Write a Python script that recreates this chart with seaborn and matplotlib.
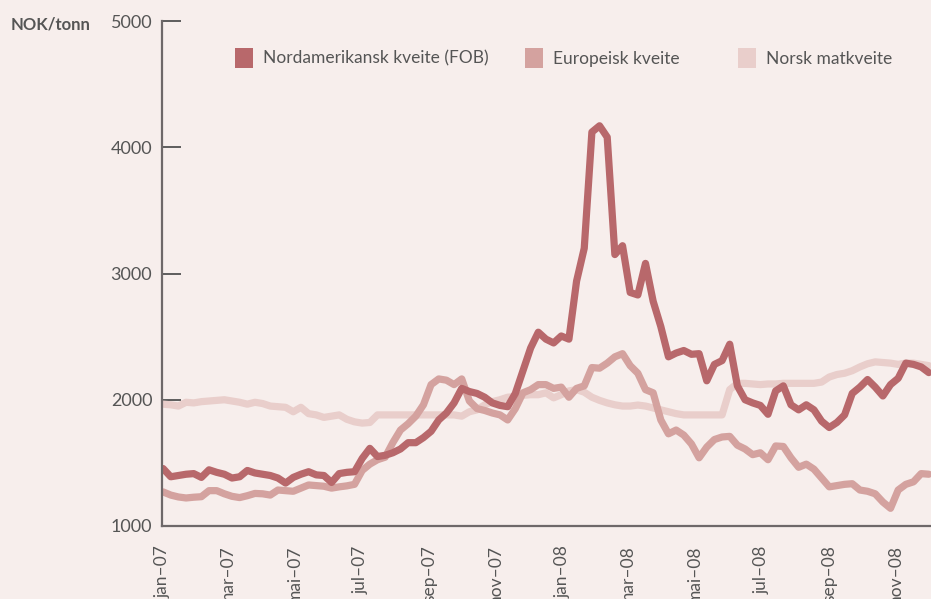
import numpy as np
import pandas as pd

# Plotting modules and settings.
import matplotlib
matplotlib.use('Agg')
import matplotlib.pyplot as plt
from matplotlib.patches import Patch
import seaborn as sns

bg = '#f7eeec'
sns.set_theme(style='white', rc={'axes.facecolor': bg, 'figure.facecolor': bg})
plt.rcParams['font.family'] = ['Lato', 'DejaVu Sans']

# weekly prices, NOK/tonn, from first week of jan-07
start = '2007-01-01'
n_weeks = 101

nordamerikansk = [1455, 1390, 1400, 1410, 1415, 1385, 1445, 1425, 1410, 1380,
                  1390, 1440, 1420, 1410, 1400, 1380, 1340, 1385, 1410, 1430,
                  1405, 1400, 1345, 1415, 1425, 1430, 1535, 1615, 1550, 1560,
                  1580, 1610, 1660, 1660, 1700, 1750, 1840, 1895, 1975, 2090,
                  2065, 2050, 2020, 1975, 1955, 1945, 2050, 2230, 2410, 2535,
                  2480, 2450, 2505, 2480, 2940, 3200, 4120, 4170, 4080, 3150,
                  3220, 2850, 2830, 3080, 2780, 2580, 2340, 2370, 2390, 2360,
                  2365, 2150, 2280, 2310, 2440, 2110, 2000, 1975, 1955, 1885,
                  2070, 2110, 1960, 1920, 1960, 1920, 1830, 1780, 1820, 1880,
                  2050, 2100, 2160, 2100, 2030, 2120, 2170, 2290, 2280, 2260,
                  2215]

europeisk = [1270, 1245, 1230, 1222, 1228, 1232, 1280, 1280, 1255, 1235,
             1225, 1240, 1258, 1255, 1245, 1285, 1280, 1275, 1300, 1325,
             1320, 1315, 1300, 1310, 1318, 1330, 1440, 1490, 1525, 1545,
             1660, 1760, 1810, 1870, 1960, 2120, 2165, 2155, 2120, 2165,
             1990, 1930, 1915, 1895, 1880, 1840, 1930, 2055, 2080, 2120,
             2120, 2090, 2100, 2020, 2090, 2110, 2255, 2250, 2290, 2340,
             2365, 2270, 2210, 2080, 2055, 1840, 1730, 1760, 1720, 1650,
             1540, 1625, 1685, 1705, 1710, 1640, 1610, 1565, 1580, 1525,
             1634, 1630, 1540, 1465, 1490, 1450, 1380, 1310, 1320, 1330,
             1335, 1285, 1275, 1255, 1190, 1140, 1285, 1330, 1350, 1415,
             1410]

norsk = [1965, 1960, 1950, 1980, 1975, 1985, 1990, 1995, 2000, 1990,
         1980, 1965, 1980, 1970, 1950, 1945, 1940, 1905, 1940, 1890,
         1880, 1860, 1870, 1880, 1845, 1825, 1815, 1820, 1880, 1880,
         1880, 1880, 1880, 1880, 1880, 1880, 1880, 1880, 1880, 1870,
         1905, 1920, 1960, 1985, 2000, 2020, 2025, 2035, 2040, 2040,
         2055, 2015, 2040, 2070, 2080, 2060, 2020, 1995, 1975, 1960,
         1950, 1950, 1958, 1950, 1935, 1920, 1905, 1890, 1880, 1880,
         1880, 1880, 1880, 1880, 2080, 2130, 2130, 2125, 2120, 2125,
         2125, 2130, 2130, 2130, 2130, 2130, 2140, 2180, 2200, 2210,
         2230, 2260, 2285, 2300, 2295, 2290, 2280, 2290, 2290, 2280,
         2270]

series_names = ['Nordamerikansk kveite (FOB)', 'Europeisk kveite', 'Norsk matkveite']
series_colors = ['#b8686b', '#d4a29f', '#e9cecb']

tick_months = pd.date_range('2007-01-01', '2008-11-01', freq='2MS')
tick_labels = ['jan–07', 'mar–07', 'mai–07', 'jul–07', 'sep–07', 'nov–07',
               'jan–08', 'mar–08', 'mai–08', 'jul–08', 'sep–08', 'nov–08']

dates = pd.date_range(start, periods=n_weeks, freq='7D')
df = pd.DataFrame({
    'dato': np.tile(dates, 3),
    'pris': nordamerikansk + europeisk + norsk,
    'serie': np.repeat(series_names, n_weeks),
})

fig = plt.figure(figsize=(9.31, 5.99), dpi=100)
ax = fig.add_axes([162 / 931, 73 / 599, 769 / 931, 505 / 599])

palette = dict(zip(series_names, series_colors))
# lightest first so the dark line ends on top
_ = sns.lineplot(data=df, x='dato', y='pris', hue='serie',
                 hue_order=series_names[::-1], palette=palette,
                 linewidth=5.2, legend=False, ax=ax)

ax.set_xlim(pd.Timestamp('2006-12-31'), pd.Timestamp('2008-12-03'))
ax.set_ylim(1000, 5000)
ax.set_yticks([1000, 2000, 3000, 4000, 5000])
ax.set_xticks(tick_months)
ax.set_xticklabels(tick_labels, rotation=90, va='top', ha='center')
ax.set_xlabel('')
ax.set_ylabel('')

for s in ['top', 'right']:
    ax.spines[s].set_visible(False)
for s in ['left', 'bottom']:
    ax.spines[s].set_color('#6e6869')
    ax.spines[s].set_linewidth(1.6)

ax.tick_params(axis='y', direction='in', length=13.5, width=1.2, color='#444444',
               pad=7, labelsize=13, labelcolor='#555555', left=True)
ax.tick_params(axis='x', length=0, pad=14, labelsize=12.5, labelcolor='#555555')

fig.text(11 / 931, 1 - 24 / 599, 'NOK/tonn', fontsize=12, fontweight='bold',
         color='#555555', va='center', ha='left')

# one legend per entry so each sits where the reference has it
legend_x = [235, 525, 738]
for name, color, lx in zip(series_names, series_colors, legend_x):
    fig.legend(handles=[Patch(facecolor=color, edgecolor='none', label=name)],
               frameon=False, loc='center left',
               bbox_to_anchor=(lx / 931, 1 - 58 / 599), borderpad=0,
               borderaxespad=0, handlelength=1.05, handleheight=1.45,
               handletextpad=0.55, fontsize=12.5, labelcolor='#555555')

plt.savefig('out.png', dpi=100, facecolor=bg)
